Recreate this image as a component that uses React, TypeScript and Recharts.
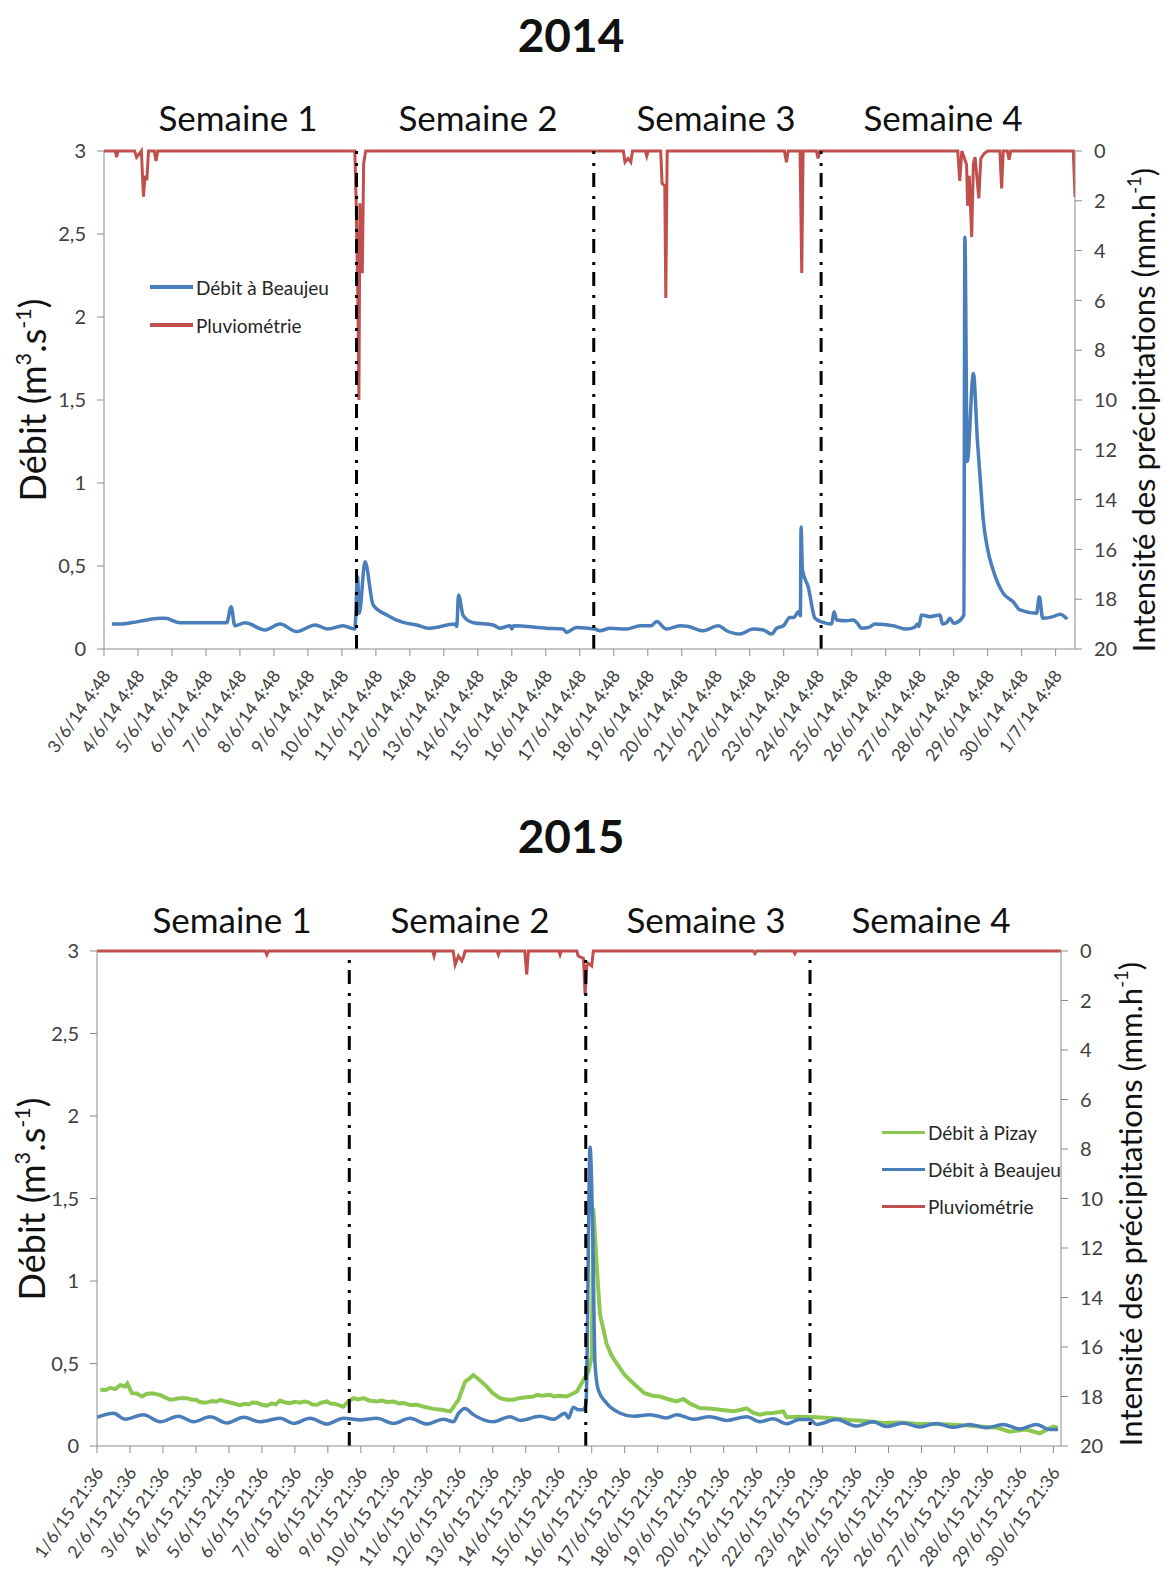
import React from 'react';
import { LineChart, Line, XAxis, YAxis, ReferenceLine, Legend } from 'recharts';

// tick labels
const dates2014 = [
  '3/6/14 4:48', '4/6/14 4:48', '5/6/14 4:48', '6/6/14 4:48', '7/6/14 4:48', '8/6/14 4:48',
  '9/6/14 4:48', '10/6/14 4:48', '11/6/14 4:48', '12/6/14 4:48', '13/6/14 4:48', '14/6/14 4:48',
  '15/6/14 4:48', '16/6/14 4:48', '17/6/14 4:48', '18/6/14 4:48', '19/6/14 4:48', '20/6/14 4:48',
  '21/6/14 4:48', '22/6/14 4:48', '23/6/14 4:48', '24/6/14 4:48', '25/6/14 4:48', '26/6/14 4:48',
  '27/6/14 4:48', '28/6/14 4:48', '29/6/14 4:48', '30/6/14 4:48', '1/7/14 4:48',
];
const dates2015 = [
  '1/6/15 21:36', '2/6/15 21:36', '3/6/15 21:36', '4/6/15 21:36', '5/6/15 21:36', '6/6/15 21:36',
  '7/6/15 21:36', '8/6/15 21:36', '9/6/15 21:36', '10/6/15 21:36', '11/6/15 21:36', '12/6/15 21:36',
  '13/6/15 21:36', '14/6/15 21:36', '15/6/15 21:36', '16/6/15 21:36', '17/6/15 21:36', '18/6/15 21:36',
  '19/6/15 21:36', '20/6/15 21:36', '21/6/15 21:36', '22/6/15 21:36', '23/6/15 21:36', '24/6/15 21:36',
  '25/6/15 21:36', '26/6/15 21:36', '27/6/15 21:36', '28/6/15 21:36', '29/6/15 21:36', '30/6/15 21:36',
];
const weeks = ['Semaine 1', 'Semaine 2', 'Semaine 3', 'Semaine 4'];
const debitTicks = [0, 0.5, 1, 1.5, 2, 2.5, 3];
const pluieTicks = [0, 2, 4, 6, 8, 10, 12, 14, 16, 18, 20];
const legendOrder2014 = ['Débit à Beaujeu', 'Pluviométrie'];
const legendOrder2015 = ['Débit à Pizay', 'Débit à Beaujeu', 'Pluviométrie'];

// week separators, in days from the first tick
const weekBreaks2014 = [7.43, 14.41, 21.1];
const weekBreaks2015 = [7.65, 14.82, 21.62];

// [day, m3/s]
const beaujeu2014 = [
  [0.23, 0.15], [0.47, 0.15], [1.0, 0.165], [1.65, 0.185], [1.8, 0.185], [2.24, 0.158], [3.0, 0.158],
  [3.61, 0.158], [3.74, 0.255], [3.85, 0.14], [4.15, 0.158], [4.74, 0.115], [5.18, 0.15], [5.67, 0.105],
  [6.21, 0.145], [6.59, 0.12], [7.03, 0.14], [7.38, 0.12], [7.46, 0.435], [7.51, 0.215], [7.68, 0.525],
  [7.92, 0.265], [8.32, 0.205], [8.8, 0.16], [9.2, 0.145], [9.54, 0.125], [10.33, 0.15], [10.38, 0.135],
  [10.43, 0.325], [10.57, 0.2], [10.87, 0.158], [11.45, 0.145], [11.65, 0.125], [11.95, 0.14], [12.0, 0.12],
  [12.05, 0.14], [13.02, 0.125], [13.51, 0.12], [13.61, 0.1], [13.9, 0.13], [14.44, 0.12], [14.59, 0.11],
  [14.89, 0.125], [15.38, 0.12], [15.77, 0.14], [16.1, 0.14], [16.26, 0.165], [16.55, 0.12], [16.95, 0.14],
  [17.2, 0.135], [17.63, 0.11], [18.07, 0.14], [18.32, 0.11], [18.71, 0.09], [19.1, 0.12], [19.4, 0.115],
  [19.64, 0.09], [19.79, 0.125], [19.99, 0.14], [20.18, 0.19], [20.3, 0.19], [20.43, 0.225], [20.49, 0.2],
  [20.51, 0.735], [20.55, 0.475], [20.72, 0.375], [20.92, 0.185], [21.16, 0.16], [21.41, 0.15],
  [21.48, 0.225], [21.56, 0.175], [21.85, 0.17], [22.04, 0.175], [22.15, 0.16], [22.29, 0.125],
  [22.5, 0.13], [22.68, 0.15], [23.22, 0.14], [23.61, 0.12], [23.85, 0.13], [23.93, 0.15], [23.98, 0.135],
  [24.05, 0.205], [24.3, 0.195], [24.6, 0.205], [24.67, 0.15], [24.8, 0.16], [24.89, 0.185], [25.0, 0.155],
  [25.1, 0.16], [25.3, 0.205], [25.33, 2.48], [25.4, 1.13], [25.58, 1.66], [25.7, 1.25], [25.79, 1.0],
  [25.87, 0.78], [26.0, 0.6], [26.16, 0.476], [26.46, 0.335], [26.75, 0.285], [26.95, 0.235],
  [27.44, 0.215], [27.52, 0.315], [27.62, 0.185], [27.93, 0.195], [28.13, 0.21], [28.34, 0.18],
];

// [day, mm/h]
const pluie2014 = [
  [0, 0], [0.33, 0], [0.37, 0.25], [0.41, 0], [0.9, 0], [0.96, 0.25], [1.1, 0], [1.16, 1.83], [1.21, 1.0],
  [1.26, 1.17], [1.31, 0], [1.48, 0], [1.53, 0.4], [1.58, 0],
  [7.38, 0], [7.42, 2.1], [7.47, 6.0], [7.5, 10.0], [7.53, 2.1], [7.56, 4.85], [7.6, 4.85], [7.64, 0.5],
  [7.7, 0],
  [15.28, 0], [15.33, 0.45], [15.42, 0.3], [15.5, 0.45], [15.55, 0], [15.93, 0], [15.97, 0.2], [16.01, 0],
  [16.38, 0], [16.42, 1.3], [16.5, 1.4], [16.53, 5.9], [16.57, 0],
  [20.02, 0], [20.08, 0.45], [20.13, 0], [20.48, 0], [20.53, 4.9], [20.57, 0], [20.96, 0], [21.01, 0.3],
  [21.06, 0],
  [25.12, 0], [25.18, 1.2], [25.24, 0], [25.32, 0.3], [25.38, 0.55], [25.41, 2.2], [25.46, 1.0],
  [25.53, 3.45], [25.58, 0.5], [25.63, 0.25], [25.74, 1.9], [25.8, 0.3], [25.9, 0.1], [26.0, 0],
  [26.36, 0], [26.41, 1.5], [26.46, 0], [26.58, 0], [26.63, 0.35], [26.68, 0], [28.52, 0], [28.57, 1.85],
];

const pizay2015 = [
  [0.1, 0.343], [0.25, 0.338], [0.4, 0.352], [0.55, 0.345], [0.71, 0.37], [0.85, 0.36], [0.92, 0.378],
  [1.06, 0.32], [1.2, 0.318], [1.36, 0.3], [1.5, 0.315], [1.67, 0.32], [1.9, 0.31], [2.05, 0.296],
  [2.22, 0.28], [2.35, 0.283], [2.5, 0.29], [2.73, 0.29], [2.85, 0.282], [3.0, 0.28], [3.1, 0.268],
  [3.23, 0.262], [3.36, 0.266], [3.5, 0.272], [3.62, 0.268], [3.74, 0.28], [3.86, 0.272], [4.0, 0.265],
  [4.17, 0.256], [4.34, 0.248], [4.47, 0.256], [4.6, 0.252], [4.72, 0.264], [4.85, 0.262], [5.0, 0.25],
  [5.15, 0.245], [5.3, 0.258], [5.42, 0.252], [5.55, 0.275], [5.7, 0.264], [5.85, 0.26], [6.0, 0.268],
  [6.16, 0.262], [6.28, 0.27], [6.4, 0.266], [6.53, 0.252], [6.67, 0.25], [6.8, 0.262], [6.97, 0.27],
  [7.08, 0.258], [7.2, 0.256], [7.33, 0.248], [7.47, 0.238], [7.62, 0.27], [7.78, 0.29], [7.92, 0.282],
  [8.08, 0.29], [8.25, 0.276], [8.48, 0.27], [8.65, 0.275], [8.8, 0.266], [8.99, 0.27], [9.15, 0.258],
  [9.3, 0.26], [9.5, 0.248], [9.7, 0.25], [9.95, 0.236], [10.2, 0.225], [10.45, 0.22], [10.71, 0.21],
  [10.96, 0.28], [11.16, 0.39], [11.3, 0.41], [11.41, 0.43], [11.6, 0.4], [11.82, 0.36], [12.0, 0.32],
  [12.22, 0.29], [12.42, 0.28], [12.62, 0.28], [12.8, 0.29], [13.0, 0.295], [13.23, 0.3], [13.35, 0.31],
  [13.5, 0.305], [13.74, 0.31], [13.85, 0.3], [14.0, 0.305], [14.24, 0.3], [14.4, 0.315], [14.55, 0.33],
  [14.75, 0.4], [14.9, 0.45], [15.0, 0.54], [15.05, 1.44], [15.15, 1.1], [15.25, 0.8], [15.45, 0.62],
  [15.6, 0.55], [15.76, 0.5], [16.0, 0.43], [16.26, 0.38], [16.6, 0.32], [16.85, 0.305], [17.07, 0.3],
  [17.3, 0.285], [17.58, 0.27], [17.78, 0.285], [18.0, 0.255], [18.28, 0.23], [18.55, 0.228],
  [18.89, 0.22], [19.1, 0.215], [19.29, 0.21], [19.5, 0.218], [19.7, 0.228], [19.9, 0.2], [20.1, 0.19],
  [20.3, 0.198], [20.5, 0.2], [20.81, 0.21], [20.91, 0.174], [21.3, 0.178], [21.82, 0.174], [22.3, 0.168],
  [22.83, 0.158], [23.3, 0.152], [23.84, 0.14], [24.3, 0.142], [24.85, 0.135], [25.3, 0.134],
  [25.86, 0.13], [26.3, 0.125], [26.87, 0.117], [27.3, 0.11], [27.68, 0.087], [28.18, 0.1], [28.58, 0.077],
  [28.99, 0.117], [29.14, 0.11],
];

const beaujeu2015 = [
  [0, 0.174], [0.5, 0.198], [0.86, 0.162], [1.41, 0.19], [1.92, 0.147], [2.47, 0.18], [2.93, 0.147],
  [3.43, 0.177], [3.94, 0.14], [4.44, 0.174], [4.95, 0.147], [5.55, 0.168], [5.96, 0.137], [6.46, 0.168],
  [6.97, 0.133], [7.47, 0.168], [7.98, 0.158], [8.48, 0.168], [8.99, 0.137], [9.49, 0.168], [10.0, 0.133],
  [10.5, 0.162], [10.81, 0.147], [10.96, 0.198], [11.16, 0.228], [11.41, 0.19], [12.02, 0.147],
  [12.52, 0.178], [12.83, 0.155], [13.43, 0.18], [13.84, 0.162], [14.19, 0.198], [14.3, 0.17],
  [14.44, 0.235], [14.6, 0.22], [14.75, 0.22], [14.83, 0.26], [14.95, 1.81], [15.03, 1.31], [15.1, 0.5],
  [15.2, 0.34], [15.45, 0.26], [15.85, 0.2], [16.26, 0.18], [16.77, 0.19], [17.27, 0.17], [17.58, 0.19],
  [18.08, 0.162], [18.58, 0.178], [19.09, 0.155], [19.7, 0.178], [20.1, 0.147], [20.5, 0.165],
  [20.91, 0.135], [21.3, 0.16], [21.61, 0.16], [21.82, 0.131], [22.42, 0.16], [23.03, 0.121],
  [23.53, 0.147], [23.94, 0.118], [24.44, 0.14], [24.95, 0.115], [25.45, 0.137], [25.96, 0.113],
  [26.46, 0.131], [26.97, 0.11], [27.47, 0.131], [27.98, 0.103], [28.48, 0.131], [28.89, 0.1], [29.14, 0.1],
];

const pluie2015 = [
  [0, 0], [5.1, 0], [5.15, 0.15], [5.2, 0], [10.18, 0], [10.22, 0.2], [10.26, 0], [10.8, 0], [10.86, 0.55],
  [10.96, 0.2], [11.06, 0.4], [11.11, 0.25], [11.16, 0], [12.13, 0], [12.17, 0.15], [12.21, 0], [12.97, 0],
  [13.03, 0.95], [13.08, 0], [14.0, 0], [14.04, 0.15], [14.08, 0], [14.55, 0], [14.59, 0.2], [14.75, 0.3],
  [14.8, 1.75], [14.85, 0.6], [14.9, 0.5], [15.0, 0.6], [15.05, 0], [19.9, 0], [19.95, 0.1], [20.0, 0],
  [21.12, 0], [21.16, 0.1], [21.2, 0], [29.23, 0],
];

const BLUE = '#4a7ebb';
const RED = '#c0504d';
const GREEN = '#8cc850';
const AXIS = '#8c8c8c';
const TXT = '#404040';

const toPts = (arr: number[][]) => arr.map(([t, v]) => ({ t, v }));
const comma = (v: number) => String(v).replace('.', ',');

const DateTick = (props: any) => {
  const { x, y, payload, labels } = props;
  return (
    <g transform={`translate(${x + 2},${y + 14})`}>
      <text textAnchor="end" dominantBaseline="central" transform="rotate(-55)" fontSize={17.5} fill={TXT}>
        {labels[payload.value]}
      </text>
    </g>
  );
};

const LegendBox = (props: any) => {
  const { payload, rowH, order } = props;
  const items = [...(payload || [])].sort((a: any, b: any) => order.indexOf(a.value) - order.indexOf(b.value));
  return (
    <div>
      {items.map((p: any) => (
        <div key={p.value} style={{ display: 'flex', alignItems: 'center', height: rowH }}>
          <span style={{ display: 'inline-block', width: 43, height: 3.5, background: p.color, marginRight: 3 }} />
          <span style={{ fontSize: 19, color: '#262626', whiteSpace: 'nowrap' }}>{p.value}</span>
        </div>
      ))}
    </div>
  );
};

const Txt = ({ x, y, size, bold, rot, children }: any) => (
  <div
    style={{
      position: 'absolute', left: x, top: y, fontSize: size, fontWeight: bold ? 700 : 400, lineHeight: 1,
      whiteSpace: 'nowrap', color: '#111',
      transform: `translate(-50%,-50%)${rot ? ' rotate(-90deg)' : ''}`,
    }}
  >
    {children}
  </div>
);

const sup = { fontSize: '0.6em', verticalAlign: '0.7em', lineHeight: 0 } as const;

const App = () => {
  return (
    <div style={{ position: 'absolute', left: 0, top: 0, width: 1165, height: 1573, fontFamily: 'Lato, sans-serif', background: '#fff' }}>
      {/* 2014 */}
      <div style={{ position: 'absolute', left: 0, top: 0 }}>
        <LineChart width={1165} height={790} margin={{ top: 151, right: 0, left: 0, bottom: 0 }}>
          <XAxis
            dataKey="t" type="number" domain={[0, 28.57]} allowDataOverflow
            ticks={dates2014.map((_, i) => i)} interval={0} height={141}
            tick={(p: any) => <DateTick {...p} labels={dates2014} />}
            tickSize={7} tickMargin={2} axisLine={{ stroke: AXIS }} tickLine={{ stroke: AXIS }}
          />
          <YAxis
            yAxisId="q" domain={[0, 3]} ticks={debitTicks} interval={0} width={104} tickFormatter={comma}
            tickSize={7} tickMargin={11} axisLine={{ stroke: AXIS }} tickLine={{ stroke: AXIS }}
            tick={{ fontSize: 20, fill: TXT }}
          />
          <YAxis
            yAxisId="p" orientation="right" reversed domain={[0, 20]} ticks={pluieTicks} interval={0} width={90}
            tickSize={7} tickMargin={12} axisLine={{ stroke: AXIS }} tickLine={{ stroke: AXIS }}
            tick={{ fontSize: 20, fill: TXT, textAnchor: 'start' }}
          />
          <Legend
            layout="vertical" align="center" verticalAlign="middle"
            wrapperStyle={{ left: 150, top: 268, width: 'auto' }}
            content={(p: any) => <LegendBox {...p} rowH={38} order={legendOrder2014} />}
          />
          <Line yAxisId="q" data={toPts(beaujeu2014)} dataKey="v" name="Débit à Beaujeu" type="monotone"
            stroke={BLUE} strokeWidth={3.5} dot={false} activeDot={false} isAnimationActive={false} />
          <Line yAxisId="p" data={toPts(pluie2014)} dataKey="v" name="Pluviométrie" type="linear"
            stroke={RED} strokeWidth={3} dot={false} activeDot={false} isAnimationActive={false} />
          {weekBreaks2014.map((b) => (
            <ReferenceLine key={b} yAxisId="q" x={b} stroke="#000" strokeWidth={3} strokeDasharray="14 7 3 9" />
          ))}
        </LineChart>
      </div>

      {/* 2015 */}
      <div style={{ position: 'absolute', left: 0, top: 800 }}>
        <LineChart width={1165} height={773} margin={{ top: 151, right: 0, left: 0, bottom: 0 }}>
          <XAxis
            dataKey="t" type="number" domain={[0, 29.23]} allowDataOverflow
            ticks={dates2015.map((_, i) => i)} interval={0} height={127}
            tick={(p: any) => <DateTick {...p} labels={dates2015} />}
            tickSize={7} tickMargin={2} axisLine={{ stroke: AXIS }} tickLine={{ stroke: AXIS }}
          />
          <YAxis
            yAxisId="q" domain={[0, 3]} ticks={debitTicks} interval={0} width={97} tickFormatter={comma}
            tickSize={7} tickMargin={11} axisLine={{ stroke: AXIS }} tickLine={{ stroke: AXIS }}
            tick={{ fontSize: 20, fill: TXT }}
          />
          <YAxis
            yAxisId="p" orientation="right" reversed domain={[0, 20]} ticks={pluieTicks} interval={0} width={104}
            tickSize={7} tickMargin={12} axisLine={{ stroke: AXIS }} tickLine={{ stroke: AXIS }}
            tick={{ fontSize: 20, fill: TXT, textAnchor: 'start' }}
          />
          <Legend
            layout="vertical" align="center" verticalAlign="middle"
            wrapperStyle={{ left: 882, top: 314, width: 'auto' }}
            content={(p: any) => <LegendBox {...p} rowH={37} order={legendOrder2015} />}
          />
          <Line yAxisId="q" data={toPts(pizay2015)} dataKey="v" name="Débit à Pizay" type="linear"
            stroke={GREEN} strokeWidth={4} dot={false} activeDot={false} isAnimationActive={false} />
          <Line yAxisId="q" data={toPts(beaujeu2015)} dataKey="v" name="Débit à Beaujeu" type="monotone"
            stroke={BLUE} strokeWidth={3.5} dot={false} activeDot={false} isAnimationActive={false} />
          <Line yAxisId="p" data={toPts(pluie2015)} dataKey="v" name="Pluviométrie" type="linear"
            stroke={RED} strokeWidth={3} dot={false} activeDot={false} isAnimationActive={false} />
          {weekBreaks2015.map((b) => (
            <ReferenceLine key={b} yAxisId="q" x={b} stroke="#000" strokeWidth={3} strokeDasharray="14 7 3 9" />
          ))}
        </LineChart>
      </div>

      {/* titles and labels */}
      <Txt x={571} y={35} size={46} bold>2014</Txt>
      <Txt x={571} y={836} size={46} bold>2015</Txt>
      {weeks.map((w, i) => (
        <Txt key={'a' + w} x={[238, 478, 716, 943][i]} y={117} size={35}>{w}</Txt>
      ))}
      {weeks.map((w, i) => (
        <Txt key={'b' + w} x={[232, 470, 706, 931][i]} y={919} size={35}>{w}</Txt>
      ))}
      <Txt x={32} y={400} size={36} rot>Débit (m<span style={sup}>3</span>.s<span style={sup}>-1</span>)</Txt>
      <Txt x={31} y={1199} size={36} rot>Débit (m<span style={sup}>3</span>.s<span style={sup}>-1</span>)</Txt>
      <Txt x={1143} y={410} size={31} rot>Intensité des précipitations (mm.h<span style={sup}>-1</span>)</Txt>
      <Txt x={1130} y={1204} size={31} rot>Intensité des précipitations (mm.h<span style={sup}>-1</span>)</Txt>
    </div>
  );
};

export default App;
